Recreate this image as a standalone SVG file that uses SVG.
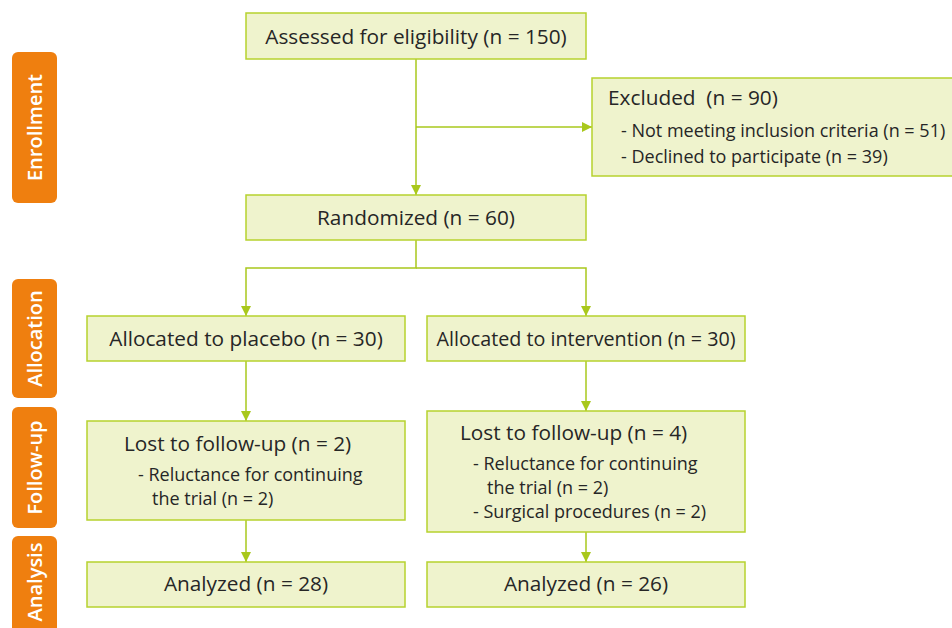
<svg xmlns="http://www.w3.org/2000/svg" width="952" height="628" viewBox="0 0 952 628">
<style>
.box{fill:#eff3cd;stroke:#b7d22e;stroke-width:1.5}
.side{fill:#ef7f0f}
.t{font-family:"Open Sans","Liberation Sans",sans-serif;font-size:20.8px;fill:#262626}
.s{font-family:"Open Sans","Liberation Sans",sans-serif;font-size:18px;fill:#262626}
.c{text-anchor:middle}
.sl{font-family:"Open Sans","Liberation Sans",sans-serif;font-size:20px;font-weight:600;fill:#ffffff;text-anchor:middle}
.ln{fill:none;stroke:#a9c81c;stroke-width:1.5}
</style>
<defs>
<marker id="ah" viewBox="0 0 10 10" refX="10" refY="5" markerWidth="10" markerHeight="10" markerUnits="userSpaceOnUse" orient="auto">
<path d="M0,0 L10,5 L0,10 z" fill="#a9c81c"/>
</marker>
</defs>
<g id="side-labels">
<g id="lbl-enrollment"><rect class="side" x="12" y="52" width="45" height="151" rx="6"/><text class="sl" transform="translate(42,127.5) rotate(-90)">Enrollment</text></g>
<g id="lbl-allocation"><rect class="side" x="12" y="279" width="45" height="119" rx="6"/><text class="sl" transform="translate(42,338.5) rotate(-90)">Allocation</text></g>
<g id="lbl-followup"><rect class="side" x="12" y="407" width="45" height="121" rx="6"/><text class="sl" transform="translate(42,467.5) rotate(-90)">Follow-up</text></g>
<g id="lbl-analysis"><rect class="side" x="12" y="536" width="45" height="110" rx="6"/><text class="sl" transform="translate(42,582) rotate(-90)">Analysis</text></g>
</g>
<g id="connectors">
<path class="ln" d="M416,59 V195" marker-end="url(#ah)"/>
<path class="ln" d="M416,127 H592" marker-end="url(#ah)"/>
<path class="ln" d="M416,240 V268 H246 V316" marker-end="url(#ah)"/>
<path class="ln" d="M416,268 H586 V316" marker-end="url(#ah)"/>
<path class="ln" d="M246,361 V421" marker-end="url(#ah)"/>
<path class="ln" d="M586,361 V411" marker-end="url(#ah)"/>
<path class="ln" d="M246,520 V562" marker-end="url(#ah)"/>
<path class="ln" d="M586,532 V562" marker-end="url(#ah)"/>
</g>
<g id="assessed"><rect class="box" x="246" y="13" width="340" height="46"/><text class="t c" x="416" y="44">Assessed for eligibility (n = 150)</text></g>
<g id="excluded"><rect class="box" x="592" y="78" width="362" height="98"/>
<text class="t" x="608" y="105">Excluded&#160; (n = 90)</text>
<text class="s" x="621" y="137">- Not meeting inclusion criteria (n = 51)</text>
<text class="s" x="621" y="163">- Declined to participate (n = 39)</text></g>
<g id="randomized"><rect class="box" x="246" y="195" width="340" height="45"/><text class="t c" x="416" y="225">Randomized (n = 60)</text></g>
<g id="alloc-placebo"><rect class="box" x="87" y="316" width="318" height="45"/><text class="t c" x="246" y="346">Allocated to placebo (n = 30)</text></g>
<g id="alloc-intervention"><rect class="box" x="427" y="316" width="318" height="45"/><text class="t c" x="586" y="346" textLength="299" lengthAdjust="spacingAndGlyphs">Allocated to intervention (n = 30)</text></g>
<g id="lost-placebo"><rect class="box" x="87" y="421" width="318" height="99"/>
<text class="t" x="124" y="451">Lost to follow-up (n = 2)</text>
<text class="s" x="138" y="481">- Reluctance for continuing</text>
<text class="s" x="152" y="505">the trial (n = 2)</text></g>
<g id="lost-intervention"><rect class="box" x="427" y="411" width="318" height="121"/>
<text class="t" x="460" y="440">Lost to follow-up (n = 4)</text>
<text class="s" x="473" y="470">- Reluctance for continuing</text>
<text class="s" x="487" y="494">the trial (n = 2)</text>
<text class="s" x="473" y="518">- Surgical procedures (n = 2)</text></g>
<g id="analyzed-placebo"><rect class="box" x="87" y="562" width="318" height="45"/><text class="t c" x="246" y="591">Analyzed (n = 28)</text></g>
<g id="analyzed-intervention"><rect class="box" x="427" y="562" width="318" height="45"/><text class="t c" x="586" y="591">Analyzed (n = 26)</text></g>
</svg>
